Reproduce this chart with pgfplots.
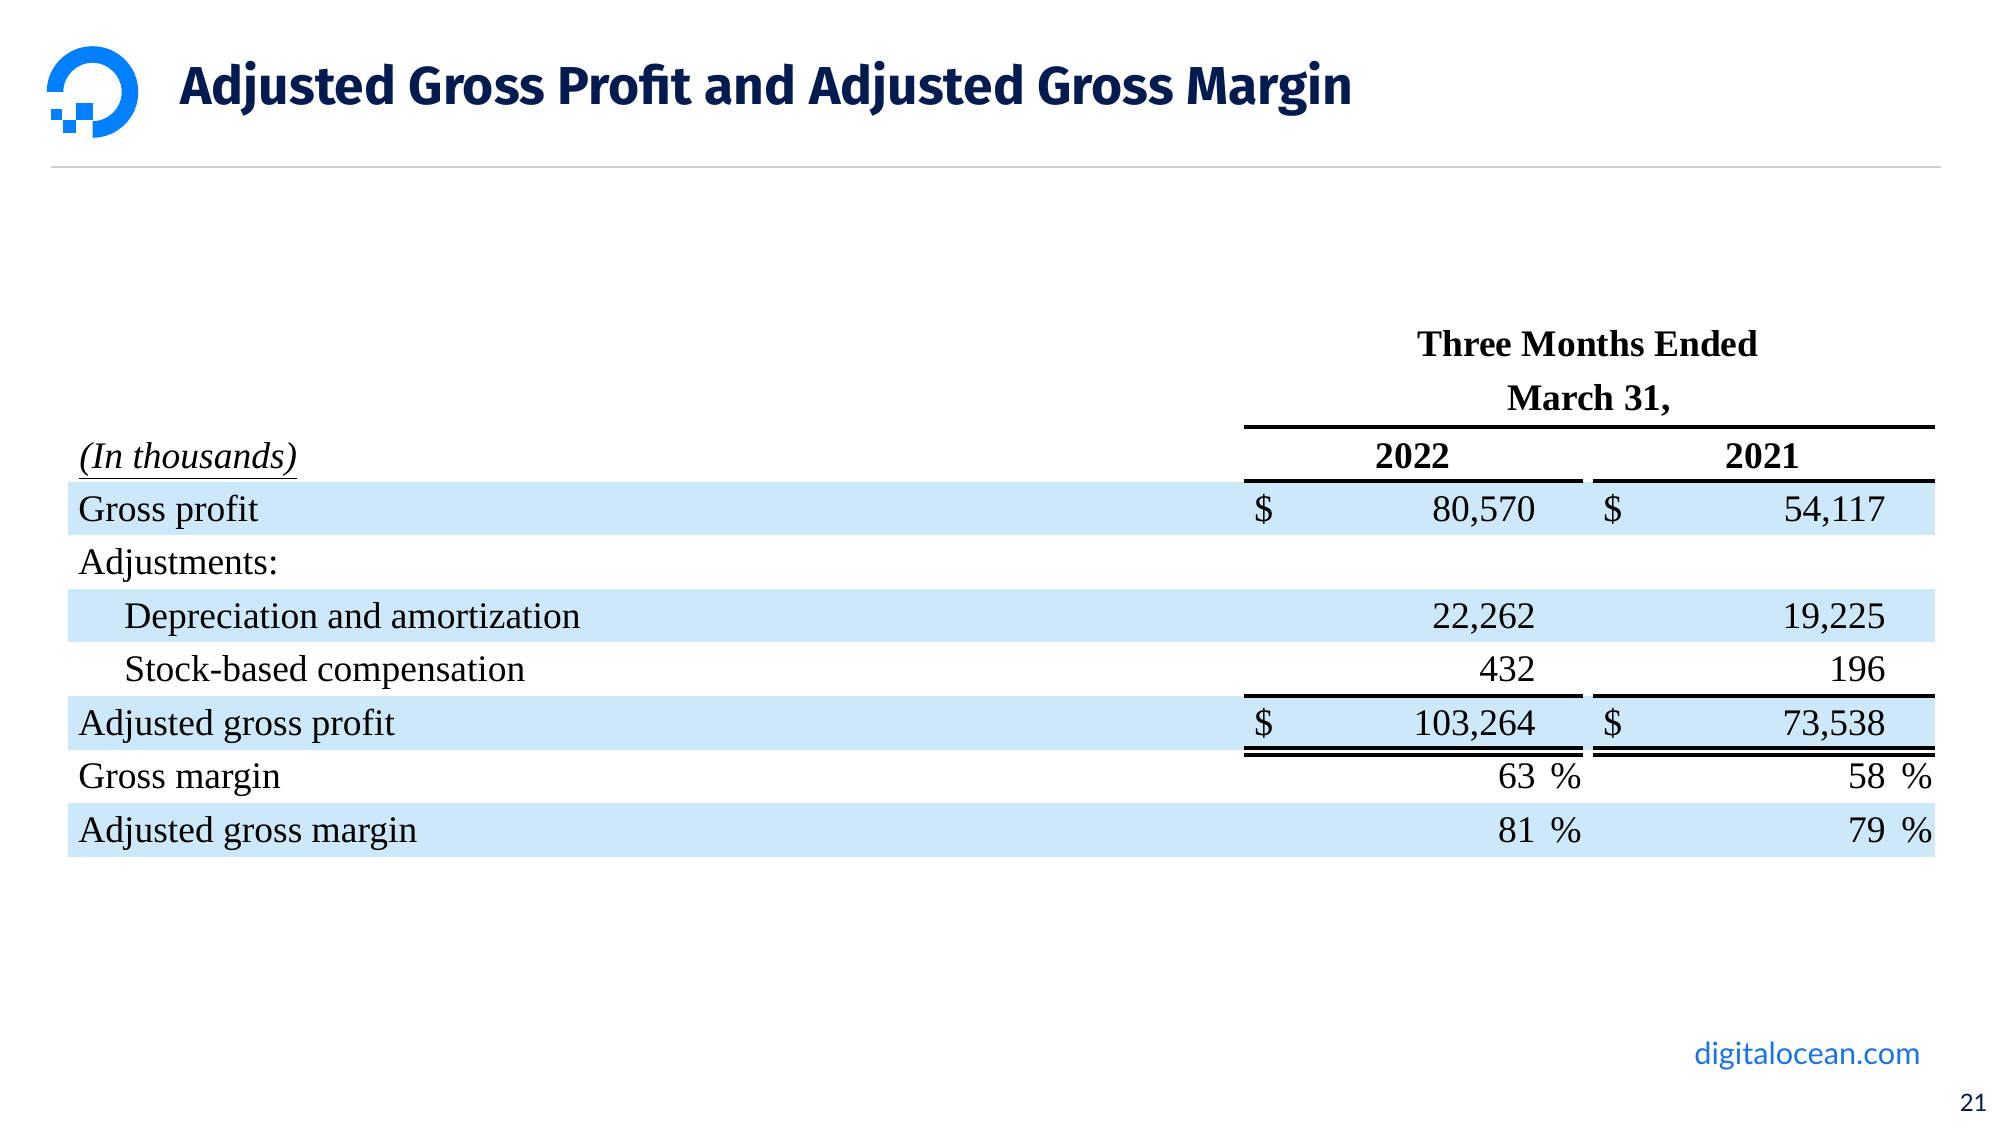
\documentclass[border=0pt]{standalone}
\usepackage{pgfplots}
\pgfplotsset{compat=1.18}
\usepackage{fontspec}
\setmainfont{Liberation Serif}
\newfontfamily\titlefont{Fira Sans}
\newfontfamily\footfont{Lato}
\definecolor{navy}{HTML}{031B4E}
\definecolor{dologo}{HTML}{0080FF}
\definecolor{footblue}{HTML}{1A73E8}
\definecolor{band}{HTML}{CDE8F8}
\definecolor{rulegray}{HTML}{CFCFCF}
\newcommand\fs{\fontsize{18.75bp}{22bp}\selectfont}
\begin{document}
\begin{tikzpicture}
\begin{axis}[width=1000bp, height=562.5bp, scale only axis,
  xmin=0, xmax=2000, ymin=0, ymax=1125, y dir=reverse,
  hide axis, clip=false]
\path (axis cs:0,0) rectangle (axis cs:2000,1125);
\coordinate (L) at (axis cs:92.5,92);
% title and rule
\node[anchor=base west, inner sep=0pt, text=navy] at (axis cs:180,104)
  {\resizebox{586.5bp}{!}{\titlefont\bfseries Adjusted Gross Profit and Adjusted Gross Margin}};
\draw[rulegray, line width=0.8bp] (axis cs:51,167) -- (axis cs:1941,167);
% bands
\fill[band] (axis cs:68,482) rectangle (axis cs:1935,535);
\fill[band] (axis cs:68,589) rectangle (axis cs:1935,642);
\fill[band] (axis cs:68,696) rectangle (axis cs:1935,750);
\fill[band] (axis cs:68,803) rectangle (axis cs:1935,857);
% header
\node[anchor=base, inner sep=0pt, font=\fs\bfseries] at (axis cs:1588,356) {Three Months Ended};
\node[anchor=base, inner sep=0pt, font=\fs\bfseries] at (axis cs:1589,410) {March 31,};
\draw[black, line width=2bp] (axis cs:1244,427) -- (axis cs:1935,427);
\node[anchor=base, inner sep=0pt, font=\fs\bfseries] at (axis cs:1413,468) {2022};
\node[anchor=base, inner sep=0pt, font=\fs\bfseries] at (axis cs:1763,468) {2021};
\node[anchor=base west, inner sep=0pt, font=\fs\itshape] at (axis cs:79,468) {\underline{(In thousands)}};
\draw[black, line width=2bp] (axis cs:1244,481) -- (axis cs:1583,481);
\draw[black, line width=2bp] (axis cs:1593,481) -- (axis cs:1935,481);
% row labels
\node[anchor=base west, inner sep=0pt, font=\fs] at (axis cs:78,521) {Gross profit};
\node[anchor=base west, inner sep=0pt, font=\fs] at (axis cs:78,574.5) {Adjustments:};
\node[anchor=base west, inner sep=0pt, font=\fs] at (axis cs:124,628) {Depreciation and amortization};
\node[anchor=base west, inner sep=0pt, font=\fs] at (axis cs:124,681.5) {Stock-based compensation};
\node[anchor=base west, inner sep=0pt, font=\fs] at (axis cs:78,735) {Adjusted gross profit};
\node[anchor=base west, inner sep=0pt, font=\fs] at (axis cs:78,788.5) {Gross margin};
\node[anchor=base west, inner sep=0pt, font=\fs] at (axis cs:78,842) {Adjusted gross margin};
% dollar signs
\node[anchor=base west, inner sep=0pt, font=\fs] at (axis cs:1254,521) {\$};
\node[anchor=base west, inner sep=0pt, font=\fs] at (axis cs:1603,521) {\$};
\node[anchor=base west, inner sep=0pt, font=\fs] at (axis cs:1254,735) {\$};
\node[anchor=base west, inner sep=0pt, font=\fs] at (axis cs:1603,735) {\$};
% values 2022
\node[anchor=base east, inner sep=0pt, font=\fs] at (axis cs:1536,521) {80,570};
\node[anchor=base east, inner sep=0pt, font=\fs] at (axis cs:1536,628) {22,262};
\node[anchor=base east, inner sep=0pt, font=\fs] at (axis cs:1536,681.5) {432};
\node[anchor=base east, inner sep=0pt, font=\fs] at (axis cs:1536,735) {103,264};
\node[anchor=base east, inner sep=0pt, font=\fs] at (axis cs:1536,788.5) {63};
\node[anchor=base east, inner sep=0pt, font=\fs] at (axis cs:1536,842) {81};
\node[anchor=base west, inner sep=0pt, font=\fs] at (axis cs:1550,788.5) {\%};
\node[anchor=base west, inner sep=0pt, font=\fs] at (axis cs:1550,842) {\%};
% values 2021
\node[anchor=base east, inner sep=0pt, font=\fs] at (axis cs:1886,521) {54,117};
\node[anchor=base east, inner sep=0pt, font=\fs] at (axis cs:1886,628) {19,225};
\node[anchor=base east, inner sep=0pt, font=\fs] at (axis cs:1886,681.5) {196};
\node[anchor=base east, inner sep=0pt, font=\fs] at (axis cs:1886,735) {73,538};
\node[anchor=base east, inner sep=0pt, font=\fs] at (axis cs:1886,788.5) {58};
\node[anchor=base east, inner sep=0pt, font=\fs] at (axis cs:1886,842) {79};
\node[anchor=base west, inner sep=0pt, font=\fs] at (axis cs:1901,788.5) {\%};
\node[anchor=base west, inner sep=0pt, font=\fs] at (axis cs:1901,842) {\%};
% rules around adjusted gross profit
\draw[black, line width=2bp] (axis cs:1244,696) -- (axis cs:1583,696);
\draw[black, line width=2bp] (axis cs:1593,696) -- (axis cs:1935,696);
\draw[black, line width=1.6bp] (axis cs:1244,748) -- (axis cs:1583,748);
\draw[black, line width=1.6bp] (axis cs:1593,748) -- (axis cs:1935,748);
\draw[black, line width=1.6bp] (axis cs:1244,755) -- (axis cs:1583,755);
\draw[black, line width=1.6bp] (axis cs:1593,755) -- (axis cs:1935,755);
% footer
\node[anchor=base west, inner sep=0pt, text=footblue] at (axis cs:1694,1064)
  {\resizebox{113bp}{!}{\footfont digitalocean.com}};
\node[anchor=base east, inner sep=0pt, text=navy] at (axis cs:1988,1111)
  {\footfont\fontsize{12bp}{14bp}\selectfont 21};
\end{axis}
\begin{scope}[shift={(L)}]
\fill[dologo] (-22.9bp,0) arc[start angle=180, end angle=-90, radius=22.9bp]
  -- (0,-14.6bp) arc[start angle=-90, end angle=180, radius=14.6bp] -- cycle;
\fill[dologo] (-8.3bp,-14bp) rectangle (0,-5.7bp);
\fill[dologo] (-14.6bp,-20.3bp) rectangle (-8.3bp,-14bp);
\fill[dologo] (-20.6bp,-14bp) rectangle (-15.1bp,-8.6bp);
\end{scope}
\end{tikzpicture}
\end{document}
